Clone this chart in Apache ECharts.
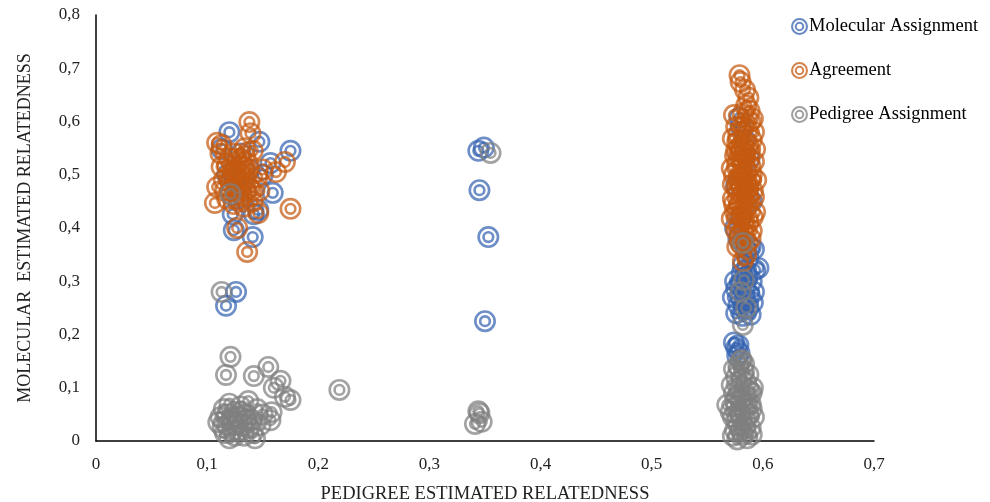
<!DOCTYPE html>
<html>
<head>
<meta charset="utf-8">
<script src="https://cdn.jsdelivr.net/npm/echarts@6/dist/echarts.min.js"></script>
<style>html,body{margin:0;padding:0;background:#fff;overflow:hidden}#c{width:990px;height:502px}</style>
</head>
<body>
<div id="c"></div>
<script>
var seriesNames = ['Molecular Assignment', 'Agreement', 'Pedigree Assignment'];
var xTicks = [0, 0.1, 0.2, 0.3, 0.4, 0.5, 0.6, 0.7];
var yTicks = [0, 0.1, 0.2, 0.3, 0.4, 0.5, 0.6, 0.7, 0.8];

var molecularPoints = [
  [0.120,0.580],[0.147,0.562],[0.175,0.545],[0.157,0.522],[0.159,0.466],[0.142,0.426],[0.146,0.434],
  [0.124,0.396],[0.123,0.426],[0.141,0.383],[0.126,0.280],[0.117,0.254],[0.130,0.540],[0.118,0.500],
  [0.135,0.470],[0.128,0.455],[0.113,0.548],[0.138,0.510],[0.125,0.490],[0.150,0.500],
  [0.344,0.545],[0.349,0.551],[0.345,0.471],[0.353,0.383],[0.350,0.225],
  [0.577,0.160],[0.578,0.180],[0.579,0.291],[0.584,0.265],[0.589,0.237],[0.593,0.321],[0.587,0.344],
  [0.581,0.300],[0.576,0.285],[0.583,0.250],[0.590,0.300],[0.579,0.607],[0.584,0.565],[0.588,0.530],
  [0.576,0.480],[0.580,0.420],[0.575,0.400],[0.590,0.450],[0.578,0.380],[0.585,0.360],[0.582,0.330],
  [0.576,0.240],[0.588,0.275],[0.580,0.590],[0.592,0.360],[0.589,0.364],[0.596,0.325],
  [0.575,0.300],[0.586,0.310],[0.580,0.270],[0.591,0.260],[0.578,0.255],[0.584,0.290],[0.573,0.270],
  [0.587,0.250],[0.582,0.235],[0.576,0.175],[0.579,0.165],[0.574,0.185],[0.592,0.280],[0.581,0.315],
  [0.585,0.320]
];

var agreementPoints = [
  [0.138,0.599],[0.139,0.578],[0.113,0.556],[0.109,0.560],[0.134,0.550],[0.141,0.545],[0.170,0.524],
  [0.162,0.505],[0.109,0.477],[0.107,0.447],[0.146,0.428],[0.175,0.436],[0.127,0.400],[0.136,0.355],
  [0.113,0.515],[0.120,0.530],[0.125,0.510],[0.130,0.500],[0.135,0.490],[0.128,0.480],[0.122,0.470],
  [0.140,0.470],[0.132,0.460],[0.118,0.455],[0.137,0.520],[0.127,0.525],[0.145,0.495],[0.150,0.510],
  [0.115,0.490],[0.133,0.440],[0.124,0.445],[0.141,0.450],[0.120,0.500],[0.130,0.515],[0.112,0.540],
  [0.147,0.470],[0.118,0.520],[0.123,0.505],[0.128,0.495],[0.133,0.485],[0.138,0.475],[0.126,0.468],
  [0.131,0.530],[0.121,0.485],[0.136,0.505],[0.116,0.470],[0.129,0.452],[0.134,0.535],[0.124,0.540],
  [0.579,0.687],[0.580,0.674],[0.584,0.659],[0.587,0.645],[0.585,0.630],[0.582,0.615],[0.589,0.600],
  [0.586,0.585],[0.578,0.575],[0.590,0.565],[0.583,0.555],[0.576,0.545],[0.588,0.540],[0.581,0.530],
  [0.592,0.525],[0.577,0.520],[0.585,0.510],[0.590,0.500],[0.574,0.500],[0.580,0.495],[0.586,0.485],
  [0.576,0.475],[0.591,0.470],[0.582,0.465],[0.573,0.455],[0.588,0.450],[0.579,0.445],[0.584,0.435],
  [0.593,0.430],[0.575,0.430],[0.581,0.420],[0.587,0.410],[0.578,0.400],[0.583,0.390],[0.589,0.380],
  [0.580,0.370],[0.585,0.350],[0.582,0.338],[0.577,0.560],[0.583,0.590],[0.588,0.620],[0.581,0.505],
  [0.586,0.460],[0.578,0.490],[0.584,0.540],
  [0.574,0.612],[0.591,0.605],[0.576,0.590],[0.592,0.580],[0.573,0.568],[0.579,0.552],[0.593,0.548],
  [0.575,0.535],[0.589,0.515],[0.572,0.512],[0.583,0.500],[0.594,0.490],[0.573,0.482],[0.587,0.475],
  [0.578,0.468],[0.592,0.458],[0.574,0.445],[0.586,0.440],[0.591,0.420],[0.572,0.418],[0.584,0.405],
  [0.576,0.395],[0.590,0.395],[0.579,0.385],[0.586,0.372],[0.577,0.365],[0.583,0.525],[0.580,0.545],
  [0.587,0.555],[0.578,0.535],[0.585,0.470],[0.581,0.450],[0.577,0.430],[0.583,0.415],[0.589,0.490],
  [0.580,0.480]
];

var pedigreePoints = [
  [0.121,0.464],[0.113,0.280],[0.121,0.158],[0.117,0.124],[0.142,0.122],[0.155,0.139],[0.166,0.113],
  [0.160,0.100],[0.170,0.083],[0.175,0.077],[0.219,0.096],[0.158,0.054],[0.157,0.039],
  [0.115,0.060],[0.112,0.045],[0.120,0.070],[0.125,0.055],[0.130,0.065],[0.135,0.050],[0.140,0.040],
  [0.145,0.060],[0.118,0.030],[0.123,0.020],[0.128,0.035],[0.133,0.010],[0.138,0.025],[0.143,0.005],
  [0.120,0.005],[0.110,0.035],[0.127,0.045],[0.132,0.028],[0.148,0.030],[0.150,0.050],[0.137,0.075],
  [0.125,0.010],[0.116,0.015],[0.118,0.050],[0.128,0.020],[0.135,0.040],[0.122,0.040],[0.141,0.015],
  [0.114,0.025],[0.131,0.055],
  [0.355,0.541],[0.344,0.056],[0.341,0.032],[0.347,0.036],[0.345,0.052],
  [0.582,0.372],[0.583,0.302],[0.582,0.218],[0.580,0.150],[0.578,0.140],[0.583,0.130],[0.576,0.120],
  [0.585,0.110],[0.579,0.100],[0.588,0.095],[0.574,0.090],[0.581,0.080],[0.586,0.070],[0.576,0.065],
  [0.590,0.060],[0.580,0.050],[0.573,0.045],[0.585,0.040],[0.578,0.030],[0.589,0.025],[0.575,0.020],
  [0.582,0.012],[0.586,0.005],[0.577,0.003],[0.581,0.115],[0.584,0.085],[0.579,0.055],[0.590,0.090],
  [0.568,0.068],[0.581,0.152],
  [0.574,0.135],[0.587,0.125],[0.572,0.105],[0.591,0.100],[0.575,0.075],[0.589,0.070],[0.583,0.060],
  [0.571,0.055],[0.592,0.045],[0.576,0.040],[0.584,0.025],[0.573,0.010],[0.590,0.012],[0.580,0.020],
  [0.587,0.050],[0.577,0.085],[0.583,0.145],[0.580,0.280],[0.585,0.250]
];

var ringSymbol = 'path://M50,0A50,50,0,1,1,50,100A50,50,0,1,1,50,0ZM50,12A38,38,0,1,0,50,88A38,38,0,1,0,50,12ZM50,22A28,28,0,1,1,50,78A28,28,0,1,1,50,22ZM50,34A16,16,0,1,0,50,66A16,16,0,1,0,50,34Z';
var colors = ['#3563B0', '#C55A11', '#7F7F7F'];
var fontFam = '"Liberation Serif", "Times New Roman", serif';
function fmt(v) { return String(Math.round(v * 10) / 10).replace('.', ','); }

var chart = echarts.init(document.getElementById('c'));
var dataSets = [molecularPoints, agreementPoints, pedigreePoints];
chart.setOption({
  animation: false,
  grid: { left: 96, right: 116, top: 15, bottom: 61, outerBoundsMode: 'none', containLabel: false },
  legend: {
    orient: 'vertical', left: 786, top: 12, itemGap: 25, itemWidth: 17, itemHeight: 17,
    textStyle: { fontFamily: fontFam, fontSize: 18.5, color: '#000', padding: [0, 0, 0, -4] },
    data: seriesNames.map(function (n, i) { return { name: n, icon: ringSymbol, itemStyle: { color: colors[i], opacity: 0.75 } }; })
  },
  xAxis: {
    type: 'value', min: 0, max: 0.7, interval: 0.1,
    name: 'PEDIGREE ESTIMATED RELATEDNESS', nameLocation: 'middle', nameGap: 44,
    nameTextStyle: { fontFamily: fontFam, fontSize: 18.5, color: '#222' },
    axisLine: { lineStyle: { color: '#000', width: 1.5 } },
    axisTick: { show: false }, splitLine: { show: false },
    axisLabel: { margin: 15, fontFamily: fontFam, fontSize: 17, color: '#222', formatter: fmt }
  },
  yAxis: {
    type: 'value', min: 0, max: 0.8, interval: 0.1,
    name: 'MOLECULAR  ESTIMATED RELATEDNESS', nameLocation: 'middle', nameGap: 62, nameRotate: 90,
    nameTextStyle: { fontFamily: fontFam, fontSize: 18, color: '#222' },
    axisLine: { show: true, lineStyle: { color: '#000', width: 1.5 } },
    axisTick: { show: false }, splitLine: { show: false },
    axisLabel: { margin: 16, fontFamily: fontFam, fontSize: 17, color: '#222', formatter: fmt }
  },
  series: seriesNames.map(function (n, i) {
    return {
      name: n, type: 'scatter', data: dataSets[i], symbol: ringSymbol, symbolSize: 22,
      symbolKeepAspect: true,
      itemStyle: { color: colors[i], opacity: 0.72 },
      emphasis: { disabled: true }
    };
  })
});
</script>
</body>
</html>
